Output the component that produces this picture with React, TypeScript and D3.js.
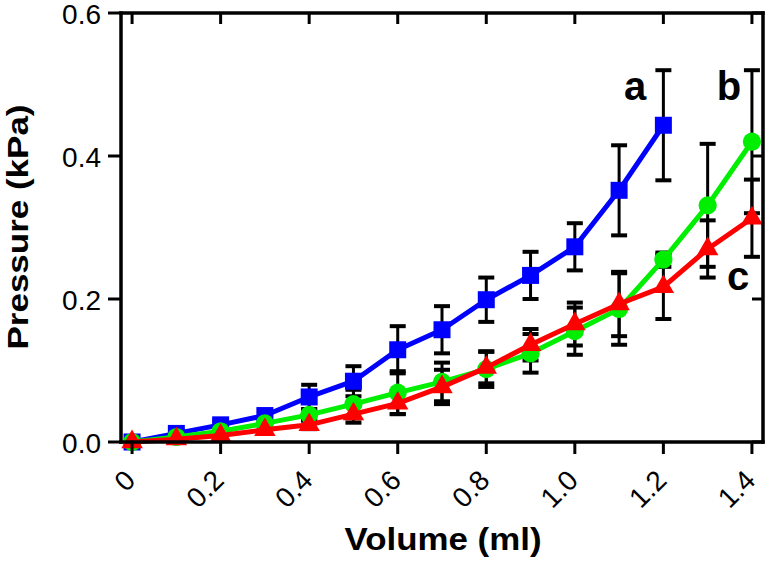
import React from "react";
import * as d3 from "d3";

const volumeA = [0, 0.1, 0.2, 0.3, 0.4, 0.5, 0.6, 0.7, 0.8, 0.9, 1.0, 1.1, 1.2];
const volumeBC = [0, 0.1, 0.2, 0.3, 0.4, 0.5, 0.6, 0.7, 0.8, 0.9, 1.0, 1.1, 1.2, 1.3, 1.4];
const pressureA = [0, 0.012, 0.024, 0.037, 0.063, 0.085, 0.129, 0.157, 0.199, 0.233, 0.273, 0.352, 0.443];
const errorA = [0, 0.004, 0.005, 0.007, 0.017, 0.021, 0.033, 0.033, 0.031, 0.033, 0.033, 0.063, 0.077];
const pressureB = [0, 0.007, 0.015, 0.026, 0.038, 0.053, 0.069, 0.084, 0.102, 0.124, 0.155, 0.186, 0.255, 0.331, 0.42];
const errorB = [0, 0.003, 0.004, 0.006, 0.008, 0.02, 0.03, 0.027, 0.025, 0.027, 0.033, 0.05, 0.01, 0.086, 0.1];
const pressureC = [0, 0.004, 0.009, 0.017, 0.024, 0.039, 0.054, 0.077, 0.104, 0.136, 0.165, 0.193, 0.217, 0.27, 0.313];
const errorC = [0, 0.002, 0.003, 0.004, 0.006, 0.012, 0.015, 0.024, 0.022, 0.022, 0.03, 0.045, 0.045, 0.04, 0.054];
const xTicks = [0, 0.2, 0.4, 0.6, 0.8, 1.0, 1.2, 1.4];
const xTickLabels = ["0", "0.2", "0.4", "0.6", "0.8", "1.0", "1.2", "1.4"];
const yTicks = [0, 0.2, 0.4, 0.6];
const yTickLabels = ["0.0", "0.2", "0.4", "0.6"];
const seriesNames = ["a", "b", "c"];

const W = 767;
const H = 561;

export default function App() {
  const x = d3.scaleLinear().domain([-0.025, 1.425]).range([121, 763]);
  const y = d3.scaleLinear().domain([0, 0.6]).range([442, 13]);

  const series = [
    { name: seriesNames[0], xs: volumeA, ys: pressureA, err: errorA, color: "#0000ff", shape: d3.symbolSquare, size: 289 },
    { name: seriesNames[1], xs: volumeBC, ys: pressureB, err: errorB, color: "#00ee00", shape: d3.symbolCircle, size: 260 },
    { name: seriesNames[2], xs: volumeBC, ys: pressureC, err: errorC, color: "#ff0000", shape: d3.symbolTriangle, size: 200 },
  ];

  const line = d3
    .line<[number, number]>()
    .x((d) => x(d[0]))
    .y((d) => y(d[1]));

  const font = "Arial, 'Liberation Sans', Helvetica, sans-serif";
  const capW = 8;

  return (
    <svg
      width={W}
      height={H}
      style={{ position: "absolute", left: 0, top: 0, background: "#fff" }}
      fontFamily={font}
    >
      <rect x={0} y={0} width={W} height={H} fill="#fff" />
      {/* error bars */}
      {series.map((s) => (
        <g key={"err" + s.name}>
          {s.xs.map((v, i) => {
            const e = s.err[i];
            if (e <= 0) return null;
            const cx = x(v);
            const y1 = y(s.ys[i] + e);
            const y2 = y(s.ys[i] - e);
            return (
              <g key={i} stroke="#000">
                <line x1={cx} x2={cx} y1={y1} y2={y2} strokeWidth={3} />
                <line x1={cx - capW} x2={cx + capW} y1={y1} y2={y1} strokeWidth={4} />
                <line x1={cx - capW} x2={cx + capW} y1={y2} y2={y2} strokeWidth={4} />
              </g>
            );
          })}
        </g>
      ))}
      {/* lines and markers */}
      {series.map((s) => {
        const pts: [number, number][] = s.xs.map((v, i) => [v, s.ys[i]]);
        const sym = d3.symbol().type(s.shape).size(s.size)();
        return (
          <g key={"ser" + s.name}>
            <path d={line(pts) || ""} fill="none" stroke={s.color} strokeWidth={5} strokeLinejoin="round" />
            {pts.map((p, i) => (
              <path key={i} d={sym || ""} transform={`translate(${x(p[0])},${y(p[1])})`} fill={s.color} />
            ))}
          </g>
        );
      })}
      {/* frame */}
      <g stroke="#000" strokeWidth={3.5} fill="none">
        <line x1={121} x2={121} y1={11.5} y2={443.7} />
        <line x1={119.3} x2={764.7} y1={442} y2={442} />
        <line x1={119.3} x2={764.7} y1={13} y2={13} />
        <line x1={763} x2={763} y1={11.3} y2={443.7} />
      </g>
      {/* ticks */}
      <g stroke="#000" strokeWidth={3}>
        {xTicks.map((t) => (
          <g key={"xt" + t}>
            <line x1={x(t)} x2={x(t)} y1={442} y2={454} />
            <line x1={x(t)} x2={x(t)} y1={13} y2={24} />
          </g>
        ))}
        {yTicks.map((t) => (
          <g key={"yt" + t}>
            <line x1={108} x2={121} y1={y(t)} y2={y(t)} />
            <line x1={752} x2={763} y1={y(t)} y2={y(t)} />
          </g>
        ))}
      </g>
      {xTicks.map((t, i) => (
        <text
          key={"xl" + t}
          transform={`translate(${x(t) + 5},${482}) rotate(-45)`}
          textAnchor="end"
          fontSize={28}
          fill="#000"
        >
          {xTickLabels[i]}
        </text>
      ))}
      {yTicks.map((t, i) => (
        <text key={"yl" + t} x={101} y={y(t)} dy="0.38em" textAnchor="end" fontSize={28} fill="#000">
          {yTickLabels[i]}
        </text>
      ))}
      {/* axis titles */}
      <text
        x={443}
        y={550}
        textAnchor="middle"
        fontSize={31}
        fontWeight="bold"
        fill="#000"
        textLength={197}
        lengthAdjust="spacingAndGlyphs"
      >
        Volume (ml)
      </text>
      <text
        transform="translate(28,227) rotate(-90)"
        textAnchor="middle"
        fontSize={30}
        fontWeight="bold"
        fill="#000"
        textLength={245}
        lengthAdjust="spacingAndGlyphs"
      >
        Pressure (kPa)
      </text>
      {/* series labels */}
      <text x={635} y={100} textAnchor="middle" fontSize={40} fontWeight="bold" fill="#000">
        {seriesNames[0]}
      </text>
      <text x={729} y={100} textAnchor="middle" fontSize={40} fontWeight="bold" fill="#000">
        {seriesNames[1]}
      </text>
      <text x={738} y={290} textAnchor="middle" fontSize={40} fontWeight="bold" fill="#000">
        {seriesNames[2]}
      </text>
    </svg>
  );
}
